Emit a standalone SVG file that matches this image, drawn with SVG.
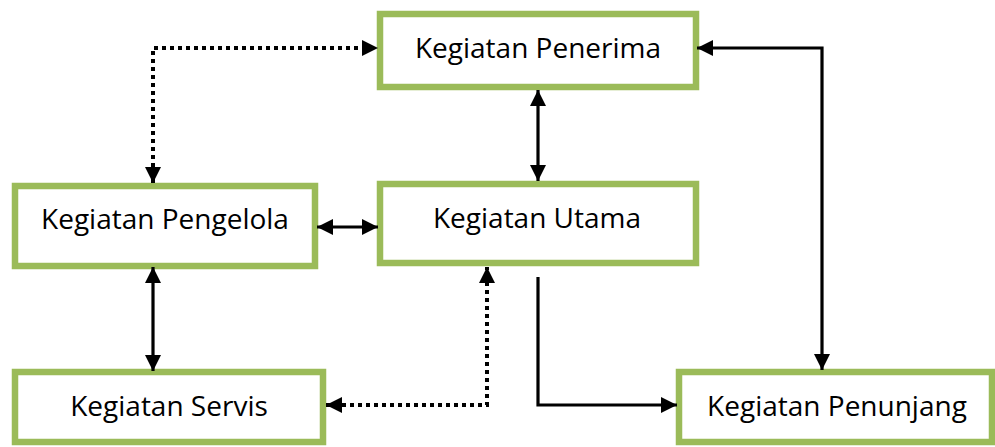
<svg xmlns="http://www.w3.org/2000/svg" width="995" height="447" viewBox="0 0 995 447">
  <style>
    .box { fill: #ffffff; stroke: #9bbb59; stroke-width: 6.5; }
    .label { font-family: "Open Sans", "Liberation Sans", sans-serif; font-size: 28px; fill: #000000; text-anchor: middle; }
    .solid { fill: none; stroke: #000000; stroke-width: 3.2; }
    .dotted { fill: none; stroke: #000000; stroke-width: 4; stroke-dasharray: 4 4; }
  </style>
  <defs>
    <marker id="arrow" viewBox="0 0 16 16" refX="16" refY="8" markerWidth="16" markerHeight="16" markerUnits="userSpaceOnUse" orient="auto-start-reverse">
      <path d="M0,0 L16,8 L0,16 Z" fill="#000000"/>
    </marker>
  </defs>

  <!-- nodes -->
  <g id="penerima">
    <rect class="box" x="380" y="14" width="316" height="73"/>
    <text class="label" x="538" y="58">Kegiatan Penerima</text>
  </g>
  <g id="utama">
    <rect class="box" x="380" y="184" width="316" height="79"/>
    <text class="label" x="537" y="228">Kegiatan Utama</text>
  </g>
  <g id="pengelola">
    <rect class="box" x="15" y="186" width="300" height="80"/>
    <text class="label" x="165" y="229">Kegiatan Pengelola</text>
  </g>
  <g id="servis">
    <rect class="box" x="15" y="372" width="308" height="70"/>
    <text class="label" x="169" y="416">Kegiatan Servis</text>
  </g>
  <g id="penunjang">
    <rect class="box" x="679" y="372" width="313" height="70"/>
    <text class="label" x="837" y="416">Kegiatan Penunjang</text>
  </g>

  <!-- connectors -->
  <g id="connectors">
    <!-- Pengelola <-> Penerima (dotted) -->
    <path class="dotted" d="M153,183 L153,48 L378,48" marker-start="url(#arrow)" marker-end="url(#arrow)"/>
    <!-- Penerima <-> Utama -->
    <path class="solid" d="M538,90 L538,181" marker-start="url(#arrow)" marker-end="url(#arrow)"/>
    <!-- Pengelola <-> Utama -->
    <path class="solid" d="M317,227 L378,227" marker-start="url(#arrow)" marker-end="url(#arrow)"/>
    <!-- Pengelola <-> Servis -->
    <path class="solid" d="M153,267 L153,371" marker-start="url(#arrow)" marker-end="url(#arrow)"/>
    <!-- Servis <-> Utama (dotted) -->
    <path class="dotted" d="M326,405 L487,405 L487,267" marker-start="url(#arrow)" marker-end="url(#arrow)"/>
    <!-- Utama -> Penunjang -->
    <path class="solid" d="M538,277 L538,405 L677,405" marker-end="url(#arrow)"/>
    <!-- Penerima <-> Penunjang -->
    <path class="solid" d="M697,48 L822,48 L822,370" marker-start="url(#arrow)" marker-end="url(#arrow)"/>
  </g>
</svg>
